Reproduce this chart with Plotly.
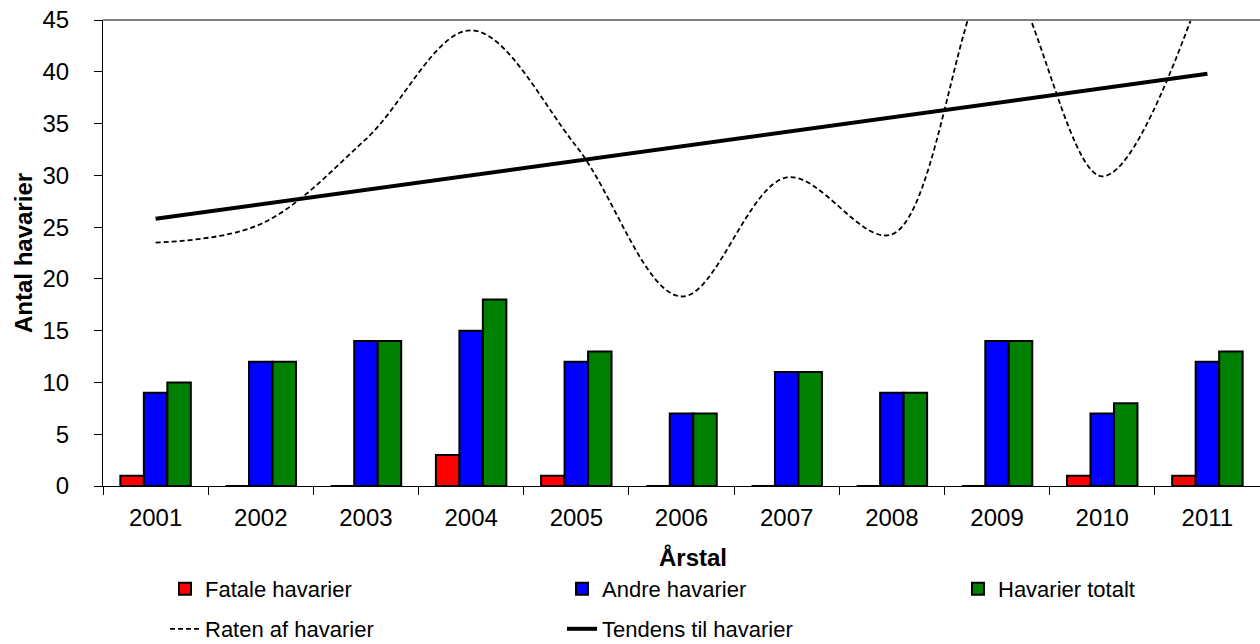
import plotly.graph_objects as go

years = ["2001", "2002", "2003", "2004", "2005", "2006", "2007", "2008", "2009", "2010", "2011"]
fatale = [1, 0, 0, 3, 1, 0, 0, 0, 0, 1, 1]
andre = [9, 12, 14, 15, 12, 7, 11, 9, 14, 7, 12]
totalt = [10, 12, 14, 18, 13, 7, 11, 9, 14, 8, 13]
raten = [23.5, 25.3, 33.5, 44.0, 32.8, 18.3, 29.8, 24.3, 50.0, 29.9, 49.5]
tendens_x = ["2001", "2011"]
tendens = [25.8, 39.8]

FONT = "Arial, Liberation Sans, sans-serif"
bar_line = dict(color="black", width=2)

fig = go.Figure()
fig.add_trace(go.Bar(x=years, y=fatale, name="Fatale havarier",
                     marker=dict(color="#FF0000", line=bar_line), legend="legend"))
fig.add_trace(go.Bar(x=years, y=andre, name="Andre havarier",
                     marker=dict(color="#0000FF", line=bar_line), legend="legend2"))
fig.add_trace(go.Bar(x=years, y=totalt, name="Havarier totalt",
                     marker=dict(color="#008000", line=bar_line), legend="legend3"))
fig.add_trace(go.Scatter(x=years, y=raten, name="Raten af havarier", mode="lines",
                         line=dict(color="black", width=1.8, dash="5px,3px", shape="spline", smoothing=1.0),
                         legend="legend4"))
fig.add_trace(go.Scatter(x=tendens_x, y=tendens, name="Tendens til havarier", mode="lines",
                         line=dict(color="black", width=4), legend="legend5"))

lc = dict(orientation="h", font=dict(family=FONT, size=22, color="black"),
          xanchor="left", yanchor="middle", bgcolor="rgba(0,0,0,0)",
          yref="container", xref="container")

row1 = 1 - 589 / 644
row2 = 1 - 629 / 644
colA = (213 - 48) / 1260
colB = (610 - 48) / 1260
colC = (1006 - 48) / 1260

fig.update_layout(
    width=1260, height=644,
    margin=dict(l=103, r=0, t=20, b=158, autoexpand=False),
    paper_bgcolor="white", plot_bgcolor="white",
    font=dict(family=FONT, size=24, color="black"),
    barmode="group", bargap=0.33, bargroupgap=0,
    showlegend=True,
    legend=dict(x=colA, y=row1, **lc),
    legend2=dict(x=colB, y=row1, **lc),
    legend3=dict(x=colC, y=row1, **lc),
    legend4=dict(x=colA, y=row2, **lc),
    legend5=dict(x=colB, y=row2, **lc),
    xaxis=dict(type="category", showline=True, linecolor="black", linewidth=1,
               ticks="outside", ticklen=8, tickcolor="black", tickson="boundaries",
               ticklabelstandoff=10, tickfont=dict(size=24), automargin=False,
               showgrid=False, zeroline=False),
    yaxis=dict(range=[0, 45], dtick=5, showline=True, linecolor="black", linewidth=1,
               ticks="outside", ticklen=8, tickcolor="black", ticklabelstandoff=20,
               tickfont=dict(size=24), automargin=False,
               showgrid=False, zeroline=False),
    annotations=[
        dict(text="<b>Årstal</b>", xref="paper", yref="paper", x=(693 - 103) / 1157, y=(486 - 557) / 466,
             xanchor="center", yanchor="middle", showarrow=False, font=dict(size=24)),
        dict(text="<b>Antal havarier</b>", xref="paper", yref="paper", x=(23 - 103) / 1157, y=0.5,
             xanchor="center", yanchor="middle", textangle=-90, showarrow=False, font=dict(size=24)),
    ],
    shapes=[dict(type="line", xref="paper", yref="paper", x0=0, x1=1, y0=1, y1=1,
                 line=dict(color="#808080", width=2))],
)

fig.write_html("out.html", config={"displayModeBar": False},
               post_script="document.body.style.margin='0';document.body.style.overflow='hidden';")
